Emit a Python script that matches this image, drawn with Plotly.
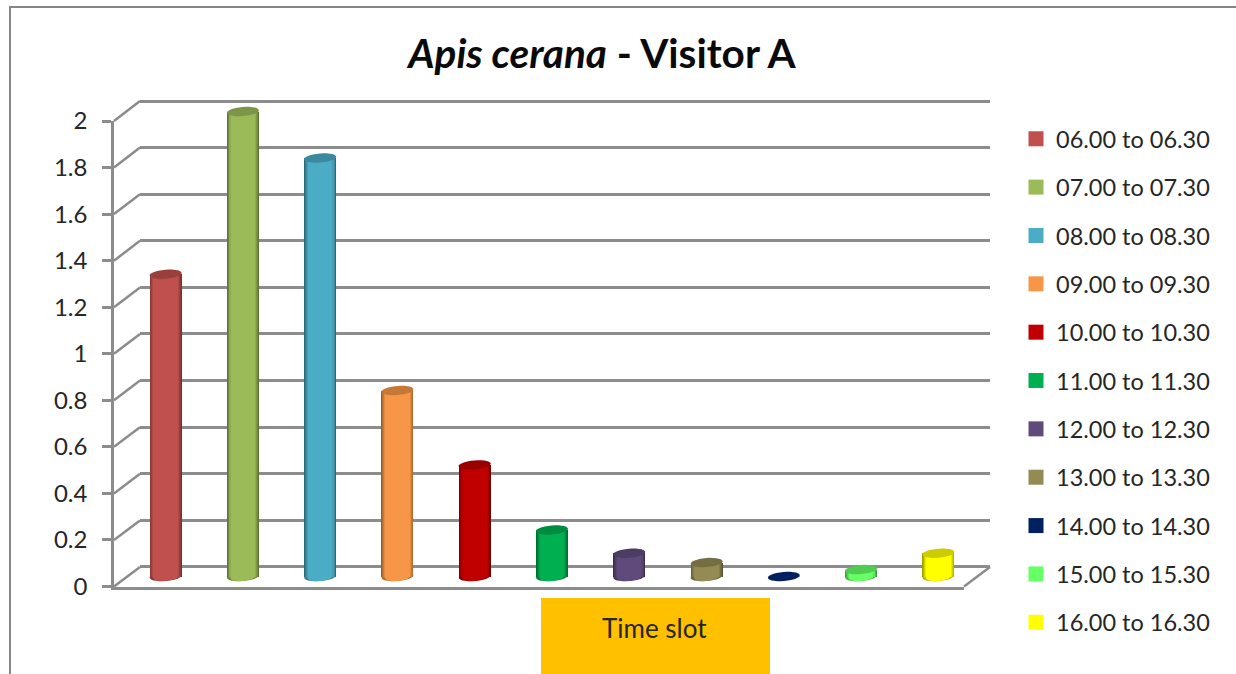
import math
import plotly.graph_objects as go

# ---------- data ----------
time_slots = ["06.00 to 06.30", "07.00 to 07.30", "08.00 to 08.30", "09.00 to 09.30",
              "10.00 to 10.30", "11.00 to 11.30", "12.00 to 12.30", "13.00 to 13.30",
              "14.00 to 14.30", "15.00 to 15.30", "16.00 to 16.30"]
visitors = [1.3, 2.0, 1.8, 0.8, 0.48, 0.2, 0.1, 0.06, 0.0, 0.03, 0.1]
colors = ["#C0504D", "#9BBB59", "#4BACC6", "#F79646", "#C00000", "#00B050",
          "#604A7B", "#948A54", "#002060", "#66FF66", "#FFFF00"]
y_ticks = [0, 0.2, 0.4, 0.6, 0.8, 1, 1.2, 1.4, 1.6, 1.8, 2]
y_tick_text = ["0", "0.2", "0.4", "0.6", "0.8", "1", "1.2", "1.4", "1.6", "1.8", "2"]

W, H = 1236, 674
FONT = "Lato"
GRID = "#8C8C8C"


def px(x):
    return x / W


def py(y):
    return 1 - y / H


def shade(hex_color, f):
    r, g, b = (int(hex_color[i:i + 2], 16) for i in (1, 3, 5))
    return f"rgb({int(r * f)},{int(g * f)},{int(b * f)})"


def ellipse_path(half_w, half_h, tilt_deg=5, steps=28):
    t = math.radians(tilt_deg)
    pts = []
    for k in range(steps):
        a = 2 * math.pi * k / steps
        ex, ey = half_w * math.cos(a), half_h * math.sin(a)
        pts.append((ex * math.cos(t) - ey * math.sin(t), ex * math.sin(t) + ey * math.cos(t)))
    return "M" + "L".join(f"{a:.2f},{b:.2f}" for a, b in pts) + "Z"


fig = go.Figure()
layers = [(1.0, 0.62), (0.95, 0.72), (0.90, 0.82), (0.84, 0.92), (0.76, 1.0)]
BAR_W = 32 / 77.27
shapes = []

# invisible traces that make the front axes and the back wall exist
fig.add_trace(go.Scatter(x=[0, 1], y=[0, 2], mode="none", showlegend=False, hoverinfo="skip",
                         xaxis="x", yaxis="y"))
fig.add_trace(go.Scatter(x=[0, 1], y=[0, 2], mode="none", showlegend=False, hoverinfo="skip",
                         xaxis="x2", yaxis="y2"))

for slot, val, col in zip(time_slots, visitors, colors):
    # bottom of the cylinder
    if val > 0:
        for frac, f in ((1.0, 0.72), (0.8, 1.0)):
            shapes.append(dict(type="path", layer="below", xref="x3", yref="y3",
                               xsizemode="pixel", ysizemode="pixel", xanchor=slot, yanchor=0,
                               path=ellipse_path(16 * frac, 4.5), fillcolor=shade(col, f),
                               line=dict(width=0)))
    for frac, f in layers:
        fig.add_trace(go.Bar(x=[slot], y=[val], width=BAR_W * frac, name=slot, legendgroup=slot,
                             showlegend=False, marker=dict(color=shade(col, f), line=dict(width=0)),
                             xaxis="x3", yaxis="y3"))
    # legend key
    fig.add_trace(go.Scatter(x=[None], y=[None], mode="markers", name=slot, legendgroup=slot,
                             marker=dict(symbol="square", size=15, color=col),
                             xaxis="x3", yaxis="y3"))
    # top of the cylinder
    shapes.append(dict(type="path", layer="above", xref="x3", yref="y3",
                       xsizemode="pixel", ysizemode="pixel", xanchor=slot, yanchor=val,
                       path=ellipse_path(16, 4.5),
                       fillcolor=shade(col, 0.8 if val > 0 else 1.0), line=dict(width=0)))

# side walls joining the front axis to the back wall
FRONT_L, FRONT_R, BACK_L, BACK_R = 114, 964, 140, 990
FRONT_T, FRONT_B, BACK_T, BACK_B = 121, 586.5, 101, 567
for v in y_ticks:
    yf = FRONT_B + (FRONT_T - FRONT_B) * v / 2
    yb = BACK_B + (BACK_T - BACK_B) * v / 2
    shapes.append(dict(type="line", xref="paper", yref="paper", x0=px(FRONT_L), y0=py(yf),
                       x1=px(BACK_L), y1=py(yb), layer="below", line=dict(color=GRID, width=2.5)))
shapes.append(dict(type="line", xref="paper", yref="paper", x0=px(FRONT_R), y0=py(FRONT_B),
                   x1=px(BACK_R), y1=py(BACK_B), layer="below", line=dict(color=GRID, width=2.5)))

# outer chart frame
shapes.append(dict(type="path", xref="paper", yref="paper", layer="below",
                   path=f"M{px(10)},{py(H)}L{px(10)},{py(7)}L{px(W)},{py(7)}",
                   line=dict(color="#868686", width=2)))
# axis-title box
shapes.append(dict(type="rect", xref="paper", yref="paper", layer="below",
                   x0=px(541), x1=px(770), y0=py(H), y1=py(598),
                   fillcolor="#FFC000", line=dict(width=0)))

# axes are padded so that caps are not clipped and the end gridlines are kept
PAD = 0.05
PX_PER_UNIT = (576.5 - 111.5) / 2

fig.update_layout(
    width=W, height=H, autosize=False,
    margin=dict(l=0, r=0, t=0, b=0, autoexpand=False),
    paper_bgcolor="white", plot_bgcolor="rgba(0,0,0,0)",
    barmode="overlay", bargap=0,
    font=dict(family=FONT, color="#262626"),
    title=dict(text="<b><i>Apis cerana</i> - Visitor A</b>", x=px(602), y=py(54),
               xref="paper", yref="paper", xanchor="center", yanchor="middle",
               font=dict(family=FONT, size=40.5, color="#0A0A0A")),
    # front axes: labels, ticks and the front floor edge
    xaxis=dict(domain=[px(FRONT_L), px(FRONT_R)], range=[0, 1], anchor="y", showgrid=False,
               zeroline=False, showticklabels=False, ticks="", showline=True,
               linecolor=GRID, linewidth=2.5),
    yaxis=dict(domain=[py(FRONT_B), py(FRONT_T)], range=[0, 2], anchor="x", showgrid=False,
               zeroline=False, tickmode="array", tickvals=y_ticks, ticktext=y_tick_text,
               ticks="outside", ticklen=9, tickwidth=2.5, tickcolor=GRID, showline=True,
               linecolor=GRID, linewidth=2.5, ticklabelstandoff=10,
               tickfont=dict(family=FONT, size=24, color="#262626")),
    # back wall with the gridlines
    xaxis2=dict(domain=[px(BACK_L), px(BACK_R)], range=[0, 1], anchor="y2", showgrid=False,
                zeroline=False, showticklabels=False, ticks=""),
    yaxis2=dict(domain=[py(BACK_B + PAD * PX_PER_UNIT), py(BACK_T - PAD * PX_PER_UNIT)],
                range=[-PAD, 2 + PAD], anchor="x2", showgrid=True,
                gridcolor=GRID, gridwidth=2.5, zeroline=False, tickmode="array",
                tickvals=y_ticks, showticklabels=False, ticks=""),
    # mid-depth plane the cylinders stand on
    xaxis3=dict(domain=[px(127), px(977)], type="category", categoryorder="array",
                categoryarray=time_slots, range=[-0.5, 10.5], anchor="y3",
                showgrid=False, zeroline=False, showticklabels=False, ticks="", showline=False),
    yaxis3=dict(domain=[py(576.5 + PAD * PX_PER_UNIT), py(111.5 - PAD * PX_PER_UNIT)],
                range=[-PAD, 2 + PAD], anchor="x3", showgrid=False,
                zeroline=False, showticklabels=False, ticks="", showline=False),
    legend=dict(x=px(1016), y=py(117), xanchor="left", yanchor="top", bgcolor="rgba(0,0,0,0)",
                font=dict(family=FONT, size=23.5, color="#262626"), itemwidth=30,
                tracegroupgap=14.8, traceorder="grouped", itemclick=False, itemdoubleclick=False),
    shapes=shapes,
    annotations=[dict(text="Time slot", xref="paper", yref="paper", x=px(655), y=py(628),
                      xanchor="center", yanchor="middle", showarrow=False,
                      font=dict(family=FONT, size=26, color="#262626"))],
    showlegend=True,
)

fig.write_html("out.html", config=dict(displayModeBar=False),
               post_script="document.body.style.margin='0';document.body.style.overflow='hidden';")
